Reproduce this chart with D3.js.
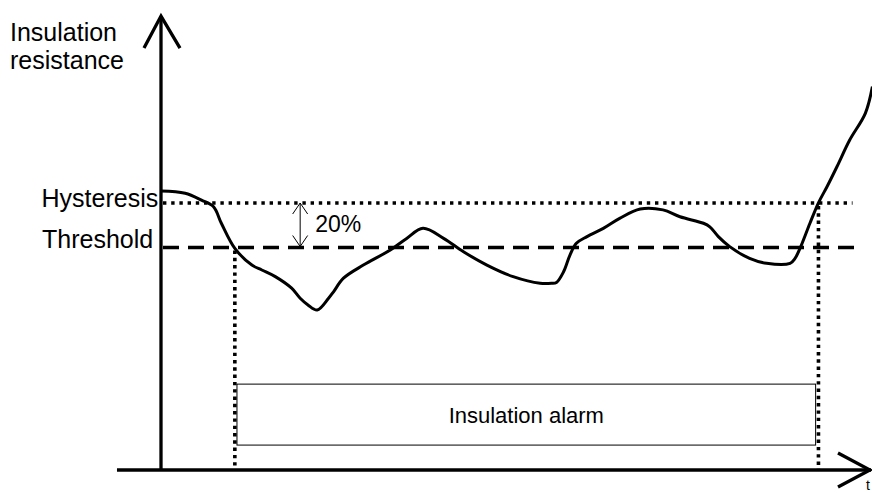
<!DOCTYPE html>
<html>
<head>
<meta charset="utf-8">
<script src="https://cdn.jsdelivr.net/npm/d3@7"></script>
<style>
  body { margin: 0; background: #fff; }
  text { font-family: "Liberation Sans", Arial, sans-serif; fill: #000; }
</style>
</head>
<body>
<div id="chart"></div>
<script>
// time (arbitrary units 0-100) and insulation resistance (% of threshold)
var times = [0, 3.4, 5.7, 7.4, 8.5, 10.4, 12.8, 14.2, 16.1, 18.4, 19.6, 20.7, 22.0, 23.6, 24.3, 25.7,
  28.5, 32.3, 34.6, 36.9, 39.8, 42.6, 45.9, 49.6, 53.4, 55.0, 55.7, 56.7, 57.6, 58.5, 60.0, 62.3,
  64.6, 67.5, 70.7, 73.1, 76.4, 77.3, 78.5, 80.1, 82.9, 85.3, 88.6, 89.3, 90.0, 91.4, 92.6, 93.8,
  95.2, 97.0, 99.2, 100.2];
var resistance = [125.4, 124.4, 121.3, 118.3, 110.9, 99.6, 92.1, 89.9, 86.9, 81.7, 77.2, 74.2, 71.9, 77.2, 80.1, 86.2,
  92.1, 98.9, 104.1, 108.6, 104.1, 98.1, 92.1, 86.9, 83.9, 83.9, 84.3, 89.1, 96.6, 101.9, 104.9, 108.6,
  113.1, 117.3, 116.9, 113.8, 110.9, 109.3, 104.9, 100.4, 95.1, 92.9, 92.9, 95.1, 99.6, 110.9, 120.1, 127.3,
  136.3, 148.3, 160.3, 172.3];

var threshold = 100;
var hysteresis = 120;
var alarmStart = 10.4, alarmEnd = 92.6;   // crossings of threshold / hysteresis
var alarmBox = [10.7, 92.2];               // time span of alarm box
var alarmBoxLevels = [11.2, 38.6];         // bottom / top of alarm box (resistance units)
var labels = { yTitle: ["Insulation", "resistance"], hyst: "Hysteresis", thr: "Threshold",
  pct: "20%", alarm: "Insulation alarm", t: "t" };

var data = times.map(function(t, i) { return { t: t, r: resistance[i] }; });

var svgWidth = 872;
var svgHeight = 493;

var svg = d3.select("#chart").append("svg")
  .attr("width", svgWidth)
  .attr("height", svgHeight);

var x = d3.scaleLinear().domain([0, 100]).range([161, 871]);
var y = d3.scaleLinear().domain([0, 100]).range([470, 247.5]);

// axes with open arrow heads
svg.append("line")
  .attr("x1", x(-6.2)).attr("x2", x(100)).attr("y1", y(0)).attr("y2", y(0))
  .attr("stroke", "#000").attr("stroke-width", 3.3);
svg.append("line")
  .attr("x1", x(0)).attr("x2", x(0)).attr("y1", y(0)).attr("y2", y(204))
  .attr("stroke", "#000").attr("stroke-width", 3.3);

svg.append("path")
  .attr("d", `M${x(0) - 17},${y(204) + 32}L${x(0)},${y(204)}L${x(0) + 19},${y(204) + 32}`)
  .attr("fill", "none").attr("stroke", "#000").attr("stroke-width", 3.3);
svg.append("path")
  .attr("d", `M${x(100) - 33},${y(0) - 17}L${x(100) - 1},${y(0)}L${x(100) - 33},${y(0) + 17}`)
  .attr("fill", "none").attr("stroke", "#000").attr("stroke-width", 3.3);

// hysteresis (dotted) and threshold (dashed)
svg.append("line")
  .attr("x1", x(0) + 2).attr("x2", x(97.4)).attr("y1", y(hysteresis)).attr("y2", y(hysteresis))
  .attr("stroke", "#000").attr("stroke-width", 3.6)
  .attr("stroke-dasharray", "3.4,4.8");
svg.append("line")
  .attr("x1", x(0) + 2).attr("x2", x(98.7)).attr("y1", y(threshold)).attr("y2", y(threshold))
  .attr("stroke", "#000").attr("stroke-width", 3.3)
  .attr("stroke-dasharray", "16,9");

// vertical dotted markers
[[alarmStart, threshold], [alarmEnd, hysteresis]].forEach(function(m) {
  svg.append("line")
    .attr("x1", x(m[0])).attr("x2", x(m[0]))
    .attr("y1", y(m[1]) + 3).attr("y2", y(0))
    .attr("stroke", "#000").attr("stroke-width", 3.6)
    .attr("stroke-dasharray", "3.4,3.9");
});

// alarm box
svg.append("rect")
  .attr("x", x(alarmBox[0])).attr("y", y(alarmBoxLevels[1]))
  .attr("width", x(alarmBox[1]) - x(alarmBox[0]))
  .attr("height", y(alarmBoxLevels[0]) - y(alarmBoxLevels[1]))
  .attr("fill", "none").attr("stroke", "#000").attr("stroke-width", 1);
svg.append("text")
  .attr("x", (x(alarmBox[0]) + x(alarmBox[1])) / 2)
  .attr("y", (y(alarmBoxLevels[0]) + y(alarmBoxLevels[1])) / 2 + 8)
  .attr("text-anchor", "middle").attr("font-size", "22px")
  .text(labels.alarm);

// 20% double arrow
var ax = x(19.6);
svg.append("path")
  .attr("d", `M${ax},${y(hysteresis)}L${ax},${y(threshold) - 1}` +
    `M${ax - 7.5},${y(hysteresis) + 11}L${ax},${y(hysteresis)}L${ax + 7.5},${y(hysteresis) + 11}` +
    `M${ax - 7.5},${y(threshold) - 12}L${ax},${y(threshold) - 1}L${ax + 7.5},${y(threshold) - 12}`)
  .attr("fill", "none").attr("stroke", "#000").attr("stroke-width", 1);
svg.append("text")
  .attr("x", ax + 15).attr("y", 232)
  .attr("font-size", "23px").text(labels.pct);

// curve
var line = d3.line()
  .x(function(d) { return x(d.t); })
  .y(function(d) { return y(d.r); })
  .curve(d3.curveCatmullRom.alpha(0.5));
svg.append("path")
  .datum(data)
  .attr("d", line)
  .attr("fill", "none").attr("stroke", "#000").attr("stroke-width", 3)
  .attr("stroke-linejoin", "round");

// labels
svg.append("text").attr("x", 10).attr("y", 40.5).attr("font-size", "25px").text(labels.yTitle[0]);
svg.append("text").attr("x", 10).attr("y", 69).attr("font-size", "25px").text(labels.yTitle[1]);
svg.append("text").attr("x", 41.5).attr("y", y(hysteresis) + 3.5).attr("font-size", "25px").text(labels.hyst);
svg.append("text").attr("x", 42).attr("y", y(threshold) + 0.5).attr("font-size", "25px").text(labels.thr);
svg.append("text").attr("x", 866).attr("y", 490).attr("font-size", "14px").text(labels.t);
</script>
</body>
</html>
